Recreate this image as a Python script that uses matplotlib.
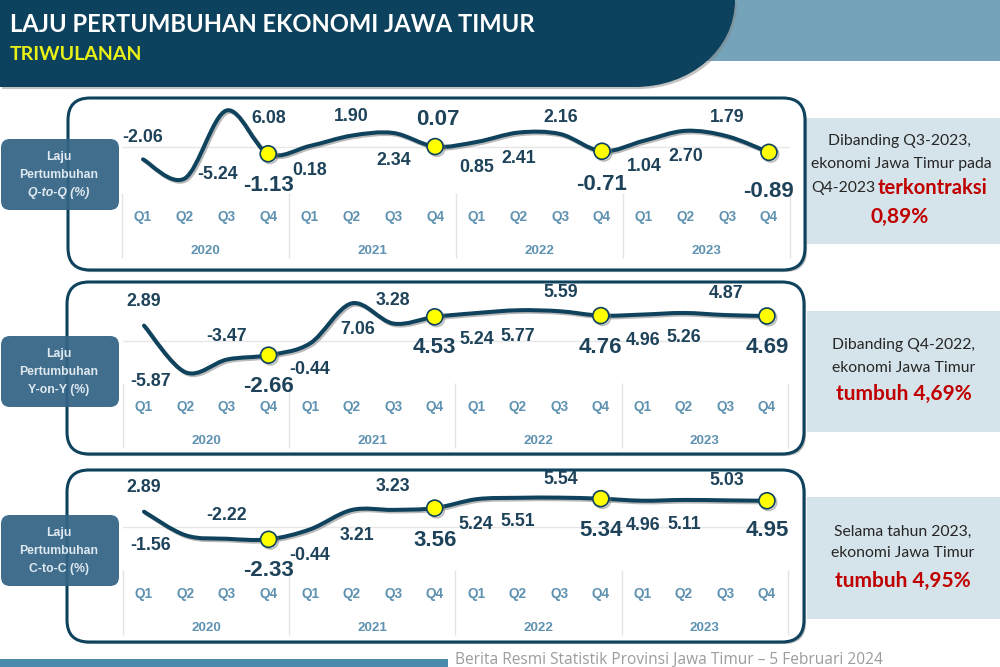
import matplotlib
matplotlib.use('Agg')
import numpy as np
import matplotlib.pyplot as plt
import matplotlib.patheffects as pe
from matplotlib.path import Path
from matplotlib.patches import PathPatch, Rectangle, FancyBboxPatch

quarters = ['Q1', 'Q2', 'Q3', 'Q4'] * 4
years = ['2020', '2021', '2022', '2023']
q_to_q = [-2.06, -5.24, 6.08, -1.13, 0.18, 1.90, 2.34, 0.07, 0.85, 2.41, 2.16, -0.71, 1.04, 2.70, 1.79, -0.89]
y_on_y = [2.89, -5.87, -3.47, -2.66, -0.44, 7.06, 3.28, 4.53, 5.24, 5.77, 5.59, 4.76, 4.96, 5.26, 4.87, 4.69]
c_to_c = [2.89, -1.56, -2.22, -2.33, -0.44, 3.21, 3.23, 3.56, 5.24, 5.51, 5.54, 5.34, 4.96, 5.11, 5.03, 4.95]

W, H = 1000, 667
DARK = '#0e425d'
LABEL = '#1d4259'
TICK = '#5f92b1'
RED = '#c00000'
SHADOW = pe.SimpleLineShadow(offset=(1.2, -1.2), shadow_color='#777777', alpha=0.5)

# label offsets from each point, pixels (dx, dy up)
offs_qq = [(0, 22), (33, 4), (42, -8), (0, -32), (0, -25), (0, 19), (0, -28), (3, 27),
           (0, -26), (0, -26), (0, 17), (0, -33), (0, -26), (0, -26), (0, 19), (0, -39)]
offs_yy = [(0, 24), (-35, -9), (0, 23), (0, -31), (0, -26), (6, -26), (0, 23), (0, -31),
           (1, -26), (0, -26), (1, 19), (0, -32), (1, -26), (0, -25), (1, 22), (0, -31)]
offs_cc = [(0, 24), (-35, -10), (0, 23), (0, -31), (0, -26), (5, -26), (0, 23), (0, -32),
           (0, -25), (0, -24), (1, 18), (0, -32), (1, -25), (0, -25), (1, 20), (0, -30)]

fig = plt.figure(figsize=(10, 6.67), dpi=100, facecolor='white')

# page furniture is drawn in pixel coords
bg = fig.add_axes([0, 0, 1, 1])
bg.set_xlim(0, W)
bg.set_ylim(H, 0)
bg.axis('off')

bg.add_patch(Rectangle((560, 0), 440, 61, fc='#74a3ba', ec='none'))
head = Path([(0, 0), (735, 0), (735, 50), (690, 87), (635, 87), (0, 87), (0, 0)],
            [Path.MOVETO, Path.LINETO, Path.CURVE4, Path.CURVE4, Path.CURVE4, Path.LINETO, Path.CLOSEPOLY])
bg.add_patch(PathPatch(head, fc='#0d425e', ec='none',
                       path_effects=[pe.SimplePatchShadow(offset=(1.5, -1.5), shadow_rgbFace='#888888', alpha=0.5), pe.Normal()]))
bg.text(10, 24, 'LAJU PERTUMBUHAN EKONOMI JAWA TIMUR', color='white', fontsize=17.1, family='Lato',
        fontweight='bold', va='center')
bg.text(10, 54, 'TRIWULANAN', color='#e8f015', fontsize=14, family='Lato', fontweight='bold', va='center')

bg.add_patch(Rectangle((0, 659), 448, 8, fc='#4a8aab', ec='none'))
bg.text(455, 660, 'Berita Resmi Statistik Provinsi Jawa Timur – 5 Februari 2024', color='#9c9c9c',
        fontsize=11.2, family='Open Sans', va='center')


def add_panel(values, offsets, frame, box_y, box_lines, side_y, x0, step, zero_px, scale, top, bottom):
    fx0, fy0, fx1, fy1 = frame
    # right info box
    bg.add_patch(Rectangle((807, side_y[0]), 193, side_y[1] - side_y[0], fc='#d5e3ea', ec='none'))
    # rounded frame
    bg.add_patch(FancyBboxPatch((fx0 + 20, fy0 + 20), fx1 - fx0 - 40, fy1 - fy0 - 40,
                                boxstyle='round,pad=20,rounding_size=22', fc='white', ec=DARK, lw=2.2,
                                path_effects=[pe.SimplePatchShadow(offset=(1.5, -1.5), shadow_rgbFace='#777777', alpha=0.5), pe.Normal()]))
    # left label box, frame shows through it
    bg.add_patch(FancyBboxPatch((9, box_y + 8), 102, 55, boxstyle='round,pad=8,rounding_size=9',
                                fc='#336385', ec='none', alpha=0.93, zorder=3))
    for j, (txt, style) in enumerate(box_lines):
        bg.text(59, box_y + 18 + j * 18, txt, color='#dfe9f0', fontsize=8.8, family='Liberation Sans',
                fontweight='bold', fontstyle=style, ha='center', va='center', zorder=4)

    # chart axes, limits follow the pixel scale of the panel
    left = x0 - 0.5 * step
    width = 16 * step
    ax = fig.add_axes([left / W, 1 - bottom / H, width / W, (bottom - top) / H], zorder=5)
    ax.patch.set_alpha(0)
    ax.set_xlim(-0.5, 15.5)
    ax.set_ylim((zero_px - bottom) / scale, (zero_px - top) / scale)
    for s in ax.spines.values():
        s.set_visible(False)
    ax.set_yticks([])
    ax.set_xticks(range(16))
    ax.set_xticklabels(quarters, color=TICK, fontsize=9.8, family='Liberation Sans', fontweight='bold')
    ax.tick_params(axis='x', length=0, pad=12)
    ax.axhline(0, color='#e6e6e6', lw=1, zorder=1)

    # separators and year labels hang below the axes
    ax.vlines([-0.5, 3.5, 7.5, 11.5, 15.5], -65 / (bottom - top), 0, transform=ax.get_xaxis_transform(),
              color='#e4e4e4', lw=1, clip_on=False)
    for k, yr in enumerate(years):
        ax.annotate(yr, xy=(1.5 + 4 * k, 0), xycoords=ax.get_xaxis_transform(), xytext=(0, -58),
                    textcoords='offset pixels', ha='center', va='center', color=TICK, fontsize=9.6,
                    family='Liberation Sans', fontweight='bold', annotation_clip=False)

    # smoothed line through the values
    xs = np.arange(len(values), dtype=float)
    ys = np.array(values, dtype=float)
    verts = [(xs[0], ys[0])]
    codes = [Path.MOVETO]
    n = len(values)
    for i in range(n - 1):
        p, q = max(i - 1, 0), min(i + 2, n - 1)
        verts += [(xs[i] + (xs[i + 1] - xs[p]) / 6, ys[i] + (ys[i + 1] - ys[p]) / 6),
                  (xs[i + 1] - (xs[q] - xs[i]) / 6, ys[i + 1] - (ys[q] - ys[i]) / 6),
                  (xs[i + 1], ys[i + 1])]
        codes += [Path.CURVE4] * 3
    ax.add_patch(PathPatch(Path(verts, codes), fc='none', ec=DARK, lw=2.9, capstyle='round', zorder=3,
                           path_effects=[SHADOW, pe.Normal()]))

    q4 = xs[3::4]
    ax.plot(q4, ys[3::4], ls='none', marker='o', ms=11.5, mfc='#ffff00', mec=DARK, mew=1.2, zorder=4,
            path_effects=[SHADOW, pe.Normal()])

    for i, v in enumerate(values):
        big = i % 4 == 3
        ax.annotate(f'{v:.2f}', xy=(i, v), xytext=offsets[i], textcoords='offset pixels', ha='center', va='center',
                    color=LABEL, fontsize=16 if big else 12.8, family='Liberation Sans', fontweight='bold',
                    annotation_clip=False, zorder=6)


add_panel(q_to_q, offs_qq, (68, 98, 805, 270), 139,
          [('Laju', 'normal'), ('Pertumbuhan', 'normal'), ('Q-to-Q (%)', 'italic')],
          (118, 244), 143, 41.73, 147, 6.0, 100, 193)
add_panel(y_on_y, offs_yy, (67, 282, 804, 454), 336,
          [('Laju', 'normal'), ('Pertumbuhan', 'normal'), ('Y-on-Y (%)', 'normal')],
          (311, 432), 144, 41.53, 341, 5.33, 290, 383)
add_panel(c_to_c, offs_cc, (67, 470, 804, 642), 515,
          [('Laju', 'normal'), ('Pertumbuhan', 'normal'), ('C-to-C (%)', 'normal')],
          (497, 619), 144, 41.53, 527, 5.3, 475, 570)

# side notes
note = dict(family='Lato', color='#262626', fontsize=11.3, ha='center', va='center')
hi = dict(family='Lato', color=RED, fontweight='bold', va='center', ha='center')
bg.text(899, 141, 'Dibanding Q3-2023,', **note)
bg.text(901, 164, 'ekonomi Jawa Timur pada', **note)
bg.text(843, 188, 'Q4-2023', **note)
bg.text(933, 188, 'terkontraksi', fontsize=14.5, **hi)
bg.text(900, 217, '0,89%', fontsize=15, **hi)

bg.text(904, 345, 'Dibanding Q4-2022,', **note)
bg.text(904, 368, 'ekonomi Jawa Timur', **note)
bg.text(904, 394, 'tumbuh 4,69%', fontsize=15, **hi)

bg.text(903, 532, 'Selama tahun 2023,', **note)
bg.text(903, 553, 'ekonomi Jawa Timur', **note)
bg.text(903, 581, 'tumbuh 4,95%', fontsize=15, **hi)

fig.savefig('out.png', dpi=100)
